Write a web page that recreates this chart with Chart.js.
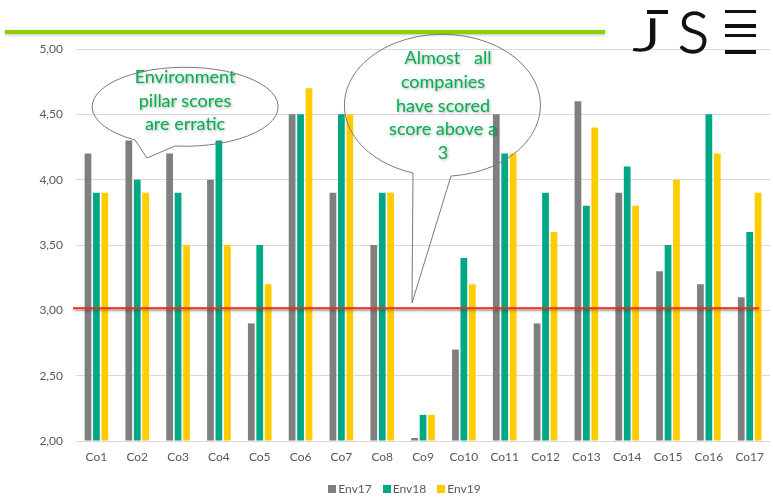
<!DOCTYPE html>
<html>
<head>
<meta charset="utf-8">
<script src="https://cdn.jsdelivr.net/npm/chart.js@4.4.1/dist/chart.umd.min.js"></script>
<style>
html,body{margin:0;padding:0;background:#fff;}
#wrap{position:relative;width:773px;height:499px;overflow:hidden;font-family:Lato,"Open Sans",sans-serif;}
#c{position:absolute;left:0;top:0;}
#hdr{position:absolute;left:5px;top:30px;width:600px;height:4px;background:#8fce00;box-shadow:0 1px 3px rgba(0,0,0,0.25);}
#ov{position:absolute;left:0;top:0;pointer-events:none;}
.btxt{position:absolute;color:#00b050;text-align:center;white-space:nowrap;font-size:18px;text-shadow:1px 1px 3px rgba(0,0,0,0.35);}
#legend{position:absolute;top:481px;left:0;width:809px;display:flex;justify-content:center;font-size:12px;color:#595959;}
#legend .it{display:flex;align-items:center;margin:0 5.5px;}
#legend .sw{width:8px;height:8px;margin-right:2px;}
.lg{position:absolute;color:#111;font-weight:300;line-height:1;-webkit-text-stroke:1.3px #111;}
.ebar{position:absolute;left:725px;width:31px;height:3.5px;background:#111;}
</style>
</head>
<body>
<div id="wrap">
  <div id="hdr"></div>
  <canvas id="c" width="773" height="499"></canvas>
  <svg id="ov" width="773" height="499">
    <path d="M135,140 L147,158 L175,146 A93 39.5 0 1 0 135,140 Z" fill="none" stroke="#7a7a7a" stroke-width="1"/>
    <path d="M413,173 L412,303 L451,176 A98 71 0 1 0 413,173 Z" fill="none" stroke="#7a7a7a" stroke-width="1"/>
  </svg>
  <div class="btxt" style="left:85px;width:200px;top:65px;line-height:23.5px;">Environment<br>pillar scores<br>are erratic</div>
  <div class="btxt" style="left:343px;width:200px;top:46px;line-height:23.8px;"><span style="padding-left:10px">Almost&nbsp;&nbsp;&nbsp;all</span><br>companies<br>have scored<br>score above a<br>3</div>
  <div id="legend"></div>
  <div id="logo">
    <div style="position:absolute;left:647px;top:10px;width:21px;height:3.5px;background:#111;"></div>
    <div class="lg" style="left:633px;top:12px;font-size:45px;transform:scaleX(1.5);transform-origin:left top;">J</div>
    <div class="lg" style="left:678px;top:2px;font-size:58px;">S</div>
    <div class="ebar" style="top:9.5px"></div>
    <div class="ebar" style="top:24px"></div>
    <div class="ebar" style="top:33.5px"></div>
    <div class="ebar" style="top:50px"></div>
  </div>
</div>
<script>
const categories = ['Co1','Co2','Co3','Co4','Co5','Co6','Co7','Co8','Co9','Co10','Co11','Co12','Co13','Co14','Co15','Co16','Co17'];
const seriesNames = ['Env17','Env18','Env19'];
const env17 = [4.2,4.3,4.2,4.0,2.9,4.5,3.9,3.5,2.0,2.7,4.5,2.9,4.6,3.9,3.3,3.2,3.1];
const env18 = [3.9,4.0,3.9,4.3,3.5,4.5,4.5,3.9,2.2,3.4,4.2,3.9,3.8,4.1,3.5,4.5,3.6];
const env19 = [3.9,3.9,3.5,3.5,3.2,4.7,4.5,3.9,2.2,3.2,4.2,3.6,4.4,3.8,4.0,4.2,3.9];
const seriesColors = ['#7f7f7f','#00a886','#ffcc00'];
const yMin = 2.0, yMax = 5.0, yStep = 0.5;
const threshold = 3.015;

const thresholdLine = {
  id: 'thresholdLine',
  afterDatasetsDraw(chart) {
    const ctx = chart.ctx;
    const y = chart.scales.y.getPixelForValue(threshold);
    const {left, right} = chart.chartArea;
    ctx.save();
    ctx.shadowColor = 'rgba(0,0,0,0.35)';
    ctx.shadowBlur = 3;
    ctx.shadowOffsetY = 1.5;
    ctx.strokeStyle = '#ef2d1b';
    ctx.lineWidth = 2;
    ctx.beginPath();
    ctx.moveTo(left - 3, y);
    ctx.lineTo(right - 11, y);
    ctx.stroke();
    ctx.restore();
  }
};

const allSeries = [env17, env18, env19];
new Chart(document.getElementById('c'), {
  type: 'bar',
  data: {
    labels: categories,
    datasets: allSeries.map((d, i) => ({
      label: seriesNames[i],
      data: d,
      base: yMin,
      backgroundColor: seriesColors[i],
      borderWidth: 0,
      minBarLength: 3,
      categoryPercentage: 0.62,
      barPercentage: 0.8
    }))
  },
  options: {
    responsive: false,
    animation: false,
    devicePixelRatio: 1,
    layout: { padding: { top: 49, right: 0, bottom: 0, left: 0 } },
    plugins: { legend: { display: false }, tooltip: { enabled: false } },
    scales: {
      x: {
        grid: { display: false, drawTicks: false },
        border: { display: false },
        ticks: { color: '#595959', font: { family: 'Lato', size: 12 }, padding: 9, maxRotation: 0, autoSkip: false },
        afterFit(s) { s.height = 58; }
      },
      y: {
        min: yMin, max: yMax,
        grid: { color: '#d9d9d9', drawTicks: false },
        border: { display: false },
        ticks: {
          stepSize: yStep,
          color: '#595959',
          font: { family: 'Lato', size: 12 },
          padding: 13,
          callback: v => v.toFixed(2).replace('.', ',')
        },
        afterFit(s) { s.width = 76; }
      }
    }
  },
  plugins: [thresholdLine]
});

const lg = document.getElementById('legend');
seriesNames.forEach((n, i) => {
  const it = document.createElement('div');
  it.className = 'it';
  const sw = document.createElement('div');
  sw.className = 'sw';
  sw.style.background = seriesColors[i];
  const t = document.createElement('span');
  t.textContent = n;
  it.appendChild(sw); it.appendChild(t);
  lg.appendChild(it);
});
</script>
</body>
</html>
